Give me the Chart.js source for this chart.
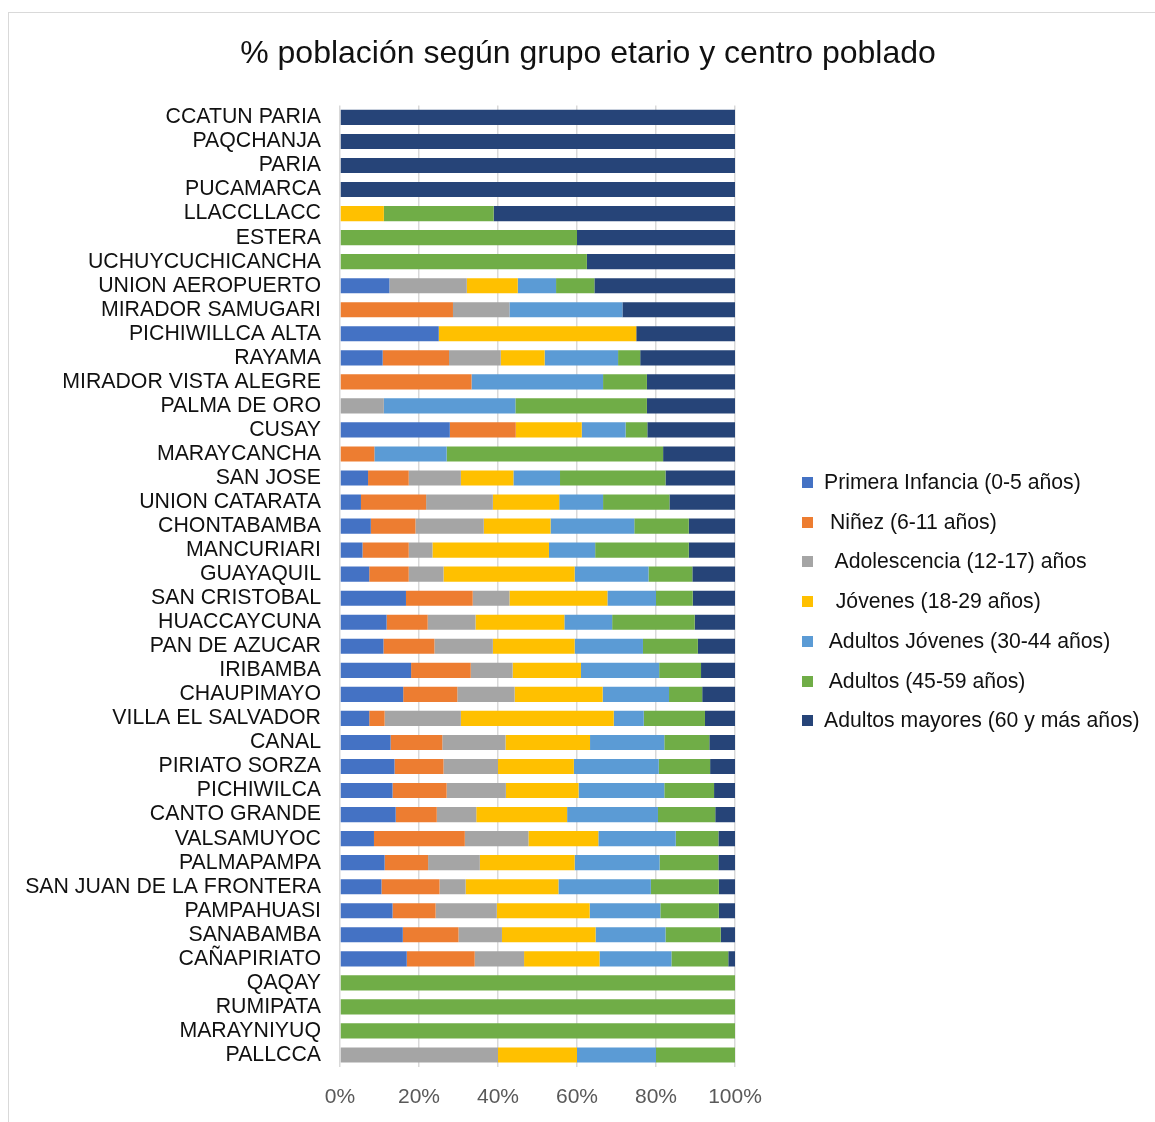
<!DOCTYPE html>
<html>
<head>
<meta charset="utf-8">
<script src="https://cdn.jsdelivr.net/npm/chart.js@4"></script>
<style>
  html, body { margin: 0; padding: 0; background: #fff; }
  #frame { position: absolute; left: 8px; top: 12px; width: 1160px; height: 1120px;
           border-left: 1px solid #d9d9d9; border-top: 1px solid #d9d9d9; }
  #wrap { position: absolute; left: 0; top: 0; width: 1155px; height: 1122px; }
  #legend { position: absolute; left: 802px; top: 0; font-family: "Liberation Sans", Arial, sans-serif;
            font-size: 21.2px; color: #111; }
  .item { position: absolute; left: 0; white-space: pre; line-height: 20px; height: 20px; }
  .box { display: inline-block; width: 11px; height: 11px; margin-right: 11px; vertical-align: 1px; }
</style>
</head>
<body>
<div id="frame"></div>
<div id="wrap"><canvas id="chart" width="1155" height="1122"></canvas></div>
<div id="legend"></div>
<script>
const centros = ['CCATUN PARIA', 'PAQCHANJA', 'PARIA', 'PUCAMARCA', 'LLACCLLACC', 'ESTERA',
  'UCHUYCUCHICANCHA', 'UNION AEROPUERTO', 'MIRADOR SAMUGARI', 'PICHIWILLCA ALTA', 'RAYAMA',
  'MIRADOR VISTA ALEGRE', 'PALMA DE ORO', 'CUSAY', 'MARAYCANCHA', 'SAN JOSE', 'UNION CATARATA',
  'CHONTABAMBA', 'MANCURIARI', 'GUAYAQUIL', 'SAN CRISTOBAL', 'HUACCAYCUNA', 'PAN DE AZUCAR',
  'IRIBAMBA', 'CHAUPIMAYO', 'VILLA EL SALVADOR', 'CANAL', 'PIRIATO SORZA', 'PICHIWILCA',
  'CANTO GRANDE', 'VALSAMUYOC', 'PALMAPAMPA', 'SAN JUAN DE LA FRONTERA', 'PAMPAHUASI',
  'SANABAMBA', 'CAÑAPIRIATO', 'QAQAY', 'RUMIPATA', 'MARAYNIYUQ', 'PALLCCA'];

const grupos = ['Primera Infancia (0-5 años)', ' Niñez (6-11 años)', '  Adolescencia (12-17) años',
  '  Jóvenes (18-29 años)', ' Adultos Jóvenes (30-44 años)', ' Adultos (45-59 años)',
  'Adultos mayores (60 y más años)'];
const colores = ['#4472C4', '#ED7D31', '#A5A5A5', '#FFC000', '#5B9BD5', '#70AD47', '#264478'];

// % por grupo, en el mismo orden que centros
const primeraInfancia = [0, 0, 0, 0, 0, 0, 0, 12.5, 0, 25, 10.8, 0, 0, 27.8, 0, 7.1, 5.3, 7.8, 5.7, 7.4,
  16.7, 11.8, 11.0, 18.0, 16.0, 7.4, 12.8, 13.8, 13.3, 14.1, 8.6, 11.3, 10.5, 13.3, 15.9, 16.9, 0, 0, 0, 0];
const ninez = [0, 0, 0, 0, 0, 0, 0, 0, 28.6, 0, 16.8, 33.3, 0, 16.7, 8.7, 10.3, 16.5, 11.3, 11.7, 10.0,
  16.9, 10.4, 12.9, 15.1, 13.7, 3.9, 13.1, 12.4, 13.7, 10.4, 23.0, 11.0, 14.7, 10.9, 14.1, 17.2, 0, 0, 0, 0];
const adolescencia = [0, 0, 0, 0, 0, 0, 0, 19.6, 14.3, 0, 13.1, 0, 11.1, 0, 0, 13.2, 16.9, 17.3, 6.0, 8.8,
  9.3, 12.1, 14.8, 10.6, 14.5, 19.3, 16.0, 13.8, 15.0, 10.0, 16.1, 13.1, 6.6, 15.5, 11.0, 12.5, 0, 0, 0, 40];
const jovenes = [0, 0, 0, 0, 11.1, 0, 0, 12.9, 0, 50, 11.1, 0, 0, 16.7, 0, 13.3, 16.8, 16.9, 29.5, 33.2,
  24.8, 22.5, 20.7, 17.3, 22.3, 38.7, 21.4, 19.2, 18.4, 23.0, 17.7, 24.0, 23.5, 23.5, 23.7, 19.1, 0, 0, 0, 20];
const adultosJovenes = [0, 0, 0, 0, 0, 0, 0, 9.7, 28.6, 0, 18.6, 33.3, 33.3, 11.1, 18.3, 11.8, 11.1, 21.2, 11.7, 18.7,
  12.3, 12.1, 17.3, 19.8, 16.8, 7.6, 18.8, 21.5, 21.7, 23.0, 19.6, 21.5, 23.4, 17.9, 17.7, 18.2, 0, 0, 0, 20];
const adultos = [0, 0, 0, 0, 27.8, 60, 62.5, 9.7, 0, 0, 5.6, 11.1, 33.3, 5.5, 54.8, 26.7, 16.8, 13.8, 23.7, 11.1,
  9.3, 20.9, 13.9, 10.6, 8.4, 15.5, 11.4, 13.0, 12.6, 14.5, 10.8, 14.9, 17.2, 14.8, 14.0, 14.4, 100, 100, 100, 20];
const adultosMayores = [100, 100, 100, 100, 61.1, 40, 37.5, 35.6, 28.5, 25, 24.0, 22.3, 22.3, 22.2, 18.2, 17.6, 16.6, 11.7, 11.7, 10.8,
  10.7, 10.2, 9.4, 8.6, 8.3, 7.6, 6.5, 6.3, 5.3, 5.0, 4.2, 4.2, 4.1, 4.1, 3.6, 1.7, 0, 0, 0, 0];

const series = [primeraInfancia, ninez, adolescencia, jovenes, adultosJovenes, adultos, adultosMayores];
const ticksX = [0, 20, 40, 60, 80, 100];

const font = '"Liberation Sans", Arial, sans-serif';

new Chart(document.getElementById('chart'), {
  type: 'bar',
  data: {
    labels: centros,
    datasets: series.map((vals, i) => ({
      label: grupos[i],
      data: vals,
      backgroundColor: colores[i],
      borderWidth: 0,
      barPercentage: 0.63,
      categoryPercentage: 1
    }))
  },
  options: {
    indexAxis: 'y',
    responsive: false,
    animation: false,
    layout: { padding: { left: 25, right: 4, top: 0, bottom: 0 } },
    plugins: {
      legend: { display: false },
      tooltip: { enabled: false },
      title: {
        display: true,
        text: '% población según grupo etario y centro poblado',
        color: '#111',
        font: { family: font, size: 32, weight: 'normal' },
        padding: { top: 35, bottom: 32 }
      }
    },
    scales: {
      x: {
        stacked: true,
        min: 0,
        max: 100,
        afterBuildTicks: (s) => { s.ticks = ticksX.map(v => ({ value: v })); },
        afterFit: (s) => { s.height = 55; },
        grid: { color: '#d9d9d9', lineWidth: 1.5, drawTicks: false },
        border: { display: false },
        ticks: { callback: (v) => v + '%', color: '#595959', padding: 18,
                 font: { family: font, size: 21 } }
      },
      y: {
        stacked: true,
        afterFit: (s) => { s.width = 315; },
        grid: { display: false, drawTicks: false },
        border: { display: false },
        ticks: { color: '#111', padding: 19, autoSkip: false,
                 font: { family: font, size: 21.3 } }
      },
      // hueco a la derecha donde va la leyenda
      espacio: {
        axis: 'y',
        type: 'category',
        position: 'right',
        afterFit: (s) => { s.width = 416; },
        grid: { display: false, drawTicks: false },
        border: { display: false },
        ticks: { display: false }
      }
    }
  }
});

// leyenda a la derecha
const legend = document.getElementById('legend');
grupos.forEach((g, i) => {
  const el = document.createElement('div');
  el.className = 'item';
  el.style.top = (472 + i * 39.7) + 'px';
  const box = document.createElement('span');
  box.className = 'box';
  box.style.background = colores[i];
  el.appendChild(box);
  el.appendChild(document.createTextNode(g));
  legend.appendChild(el);
});
</script>
</body>
</html>
